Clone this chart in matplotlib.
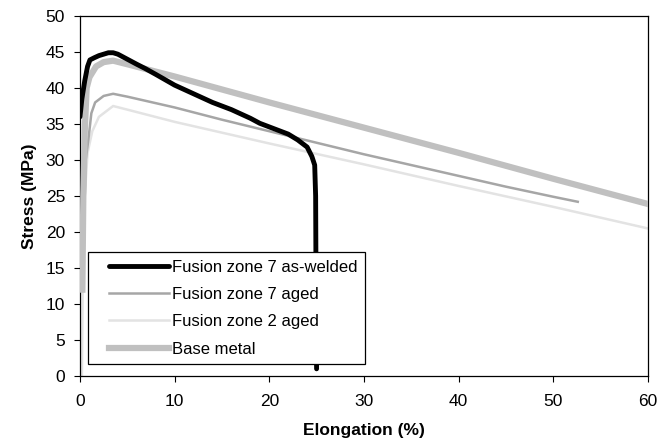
import matplotlib
matplotlib.use("Agg")
import matplotlib.pyplot as plt
from matplotlib.lines import Line2D
from matplotlib.legend_handler import HandlerLine2D

plt.rcParams['font.family'] = ['Liberation Sans', 'DejaVu Sans']

# Fusion zone 7 as-welded
fz7w_x = [0, 0.2, 0.5, 0.8, 1.05, 1.5, 2.0, 2.5, 3.0, 3.5, 4.0, 5.0, 6.0, 6.9, 8, 10, 12, 14, 16, 18, 19, 20, 21, 22, 23, 24, 24.5, 24.8, 24.9, 24.95, 25.0]
fz7w_y = [36, 38.5, 41, 43, 43.9, 44.2, 44.5, 44.7, 44.9, 44.9, 44.7, 44.0, 43.3, 42.7, 41.9, 40.4, 39.2, 38.0, 37.0, 35.8, 35.1, 34.6, 34.1, 33.6, 32.8, 31.8, 30.5, 29.3, 25, 10, 1]

# Fusion zone 7 aged
fz7a_x = [0.4, 0.6, 0.9, 1.2, 1.6, 2.5, 3.5, 5, 10, 15, 20, 25, 30, 35, 40, 45, 50, 52.6]
fz7a_y = [20, 30, 33, 36.5, 38.0, 38.9, 39.2, 38.8, 37.3, 35.6, 34.0, 32.4, 30.8, 29.3, 27.8, 26.3, 24.9, 24.2]

# Fusion zone 2 aged
fz2_x = [0.2, 0.3, 0.5, 0.8, 1.3, 2.0, 3.5, 5, 10, 20, 30, 40, 50, 60]
fz2_y = [0, 15, 25, 31, 34, 36, 37.5, 37.0, 35.3, 32.3, 29.4, 26.4, 23.5, 20.5]

# Base metal
base_x = [0.25, 0.35, 0.5, 0.7, 1.0, 1.7, 2.5, 3.5, 5, 10, 20, 30, 40, 50, 60]
base_y = [12, 25, 34, 40, 41.5, 43.0, 43.6, 43.8, 43.3, 41.6, 38.0, 34.5, 31.0, 27.4, 23.9]

fig = plt.figure(figsize=(6.59, 4.45), dpi=100)
ax = fig.add_axes([0.1214, 0.155, 0.8616, 0.809])

ax.plot(fz7w_x, fz7w_y, color='black', lw=3.5, solid_capstyle='round', label='Fusion zone 7 as-welded', zorder=4)
ax.plot(fz7a_x, fz7a_y, color='#a6a6a6', lw=1.8, label='Fusion zone 7 aged', zorder=3)
ax.plot(fz2_x, fz2_y, color='#e3e3e3', lw=1.8, label='Fusion zone 2 aged', zorder=2)
ax.plot(base_x, base_y, color='#c0c0c0', lw=4.5, label='Base metal', zorder=3)

ax.set_xlim(0, 60)
ax.set_ylim(0, 50)
ax.set_xticks(range(0, 61, 10))
ax.set_yticks(range(0, 51, 5))
ax.tick_params(direction='out', length=4.3, width=0.8, labelsize=12.5, colors='black')
ax.tick_params(axis='x', pad=9)
ax.tick_params(axis='y', pad=6.5)
for s in ax.spines.values():
    s.set_linewidth(0.9)

ax.set_xlabel('Elongation (%)', fontsize=12.5, fontweight='bold', labelpad=10)
ax.set_ylabel('Stress (MPa)', fontsize=12.5, fontweight='bold', labelpad=6)

leg = ax.legend(loc='lower left', bbox_to_anchor=(0.014, 0.033), fontsize=12, handlelength=4.4,
                handler_map={Line2D: HandlerLine2D(xpad=0.8)},
                fancybox=False, framealpha=1, edgecolor='black', borderpad=0.45,
                labelspacing=0.74, handletextpad=0.2, borderaxespad=0)
leg.get_frame().set_linewidth(0.9)
leg.set_zorder(5)

fig.savefig('out.png', dpi=100)
